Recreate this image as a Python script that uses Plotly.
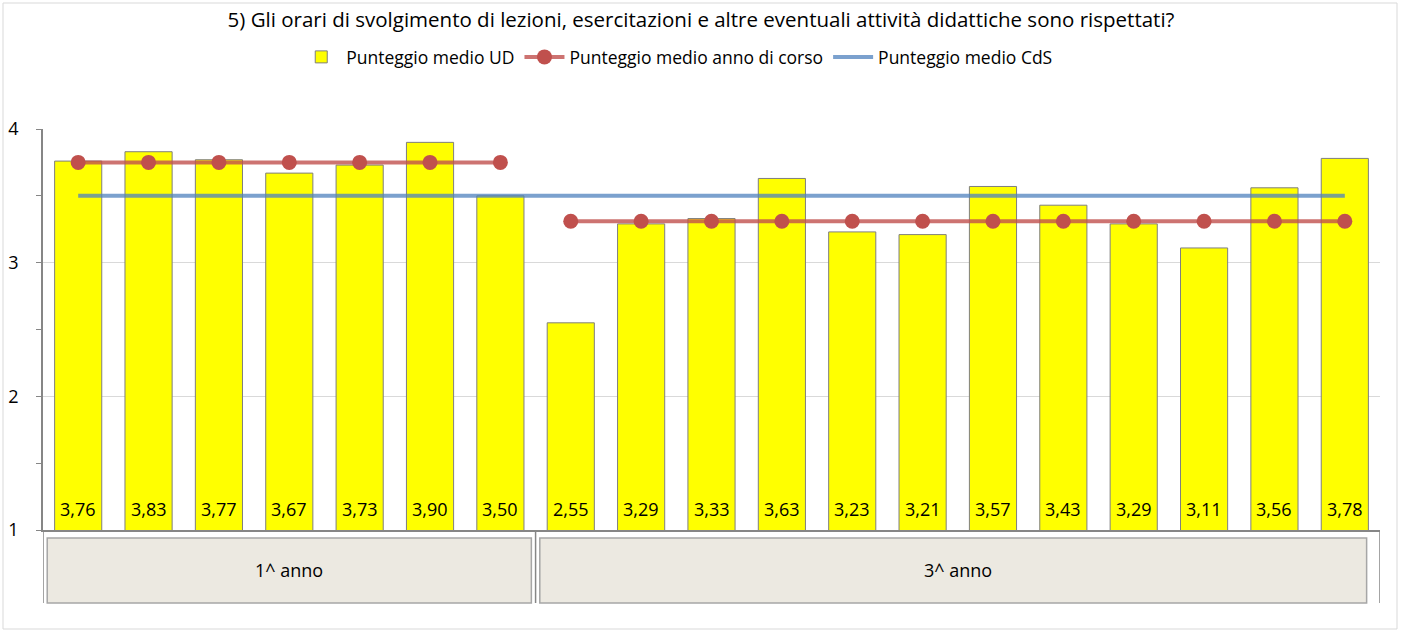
import plotly.graph_objects as go

# data
ud_scores = [3.76, 3.83, 3.77, 3.67, 3.73, 3.90, 3.50,
             2.55, 3.29, 3.33, 3.63, 3.23, 3.21, 3.57, 3.43, 3.29, 3.11, 3.56, 3.78]
group_labels = ["1^ anno", "3^ anno"]
group_sizes = [7, 12]
year_means = [3.75, 3.31]
cds_mean = 3.50

title = ("5) Gli orari di svolgimento di lezioni, esercitazioni e altre eventuali "
         "attività didattiche sono rispettati?")

W, H = 1402, 632
L, R, T, B = 43, 22, 129, 102
plot_h = H - T - B
font = "Open Sans"


def py(pixel_y):
    # pixel row -> paper y
    return (H - B - pixel_y) / plot_h


def px(pixel_x):
    return (pixel_x - L) / (W - L - R)


x = list(range(len(ud_scores)))
fig = go.Figure()

fig.add_trace(go.Bar(
    x=x, y=ud_scores, name="Punteggio medio UD",
    marker=dict(color="#FFFF00", line=dict(color="#7F7F7F", width=1)),
    width=0.67,
))

# year means, one segment per group
start = 0
for i, (size, mean) in enumerate(zip(group_sizes, year_means)):
    xs = x[start:start + size]
    fig.add_trace(go.Scatter(
        x=xs, y=[mean] * size, mode="lines+markers",
        name="Punteggio medio anno di corso", showlegend=(i == 0),
        legendgroup="anno",
        line=dict(color="rgba(192,80,77,0.8)", width=4),
        marker=dict(color="#C0504D", size=15),
    ))
    start += size

fig.add_trace(go.Scatter(
    x=x, y=[cds_mean] * len(x), mode="lines", name="Punteggio medio CdS",
    line=dict(color="rgba(79,129,189,0.75)", width=4),
))

shapes = []
annotations = []

# value labels at the foot of each bar
for xi, v in zip(x, ud_scores):
    annotations.append(dict(x=xi, y=1, xref="x", yref="y", yanchor="bottom",
                            yshift=7, showarrow=False,
                            text=f"{v:.2f}".replace(".", ","),
                            font=dict(size=18, color="black", family=font)))

# outer chart border
shapes.append(dict(type="rect", xref="paper", yref="paper",
                   x0=px(3), x1=px(1397), y0=py(629), y1=py(3),
                   line=dict(color="#D9D9D9", width=1), layer="below"))
# group boxes and dividers
start = 0
bounds = [-0.5]
for label, size in zip(group_labels, group_sizes):
    x0 = start - 0.5
    x1 = start + size - 0.5
    shapes.append(dict(type="rect", xref="x", yref="paper",
                       x0=x0 + 0.06, x1=x1 - 0.06 if x1 < len(x) - 1 else x1 - 0.19,
                       y0=py(603), y1=py(538),
                       fillcolor="#ECE9E1", line=dict(color="#A6A6A6", width=1.5)))
    annotations.append(dict(x=(x0 + x1) / 2, y=py(570), xref="x", yref="paper",
                            yanchor="middle", text=label, showarrow=False,
                            font=dict(size=18, color="black", family=font)))
    bounds.append(x1)
    start += size
for b in bounds:
    shapes.append(dict(type="line", xref="x", yref="paper",
                       x0=b, x1=b, y0=0, y1=py(603),
                       line=dict(color="#868686", width=1.5)))

fig.update_layout(
    width=W, height=H,
    margin=dict(l=L, r=R, t=T, b=B, autoexpand=False),
    paper_bgcolor="white", plot_bgcolor="white",
    font=dict(family=font, size=16, color="black"),
    title=dict(text=title, x=0.5, xanchor="center", y=1 - 20 / H, yanchor="middle",
               font=dict(size=20.5, color="black", family=font)),
    legend=dict(orientation="h", x=0.474, xanchor="center", y=py(57), yanchor="middle",
                font=dict(size=17.5, family=font), traceorder="normal",
                itemwidth=40),
    showlegend=True,
    bargap=0.33,
    xaxis=dict(range=[-0.5, len(x) - 0.5], showticklabels=False, showgrid=False,
               zeroline=False, showline=True, linecolor="#868686", linewidth=1.5,
               ticks="", automargin=False),
    yaxis=dict(range=[1, 4], dtick=1, tick0=1, showgrid=True, gridcolor="#D9D9D9",
               zeroline=False, showline=True, linecolor="#868686", linewidth=1.5,
               ticks="outside", ticklen=5, tickcolor="#868686", automargin=False,
               tickfont=dict(size=18, family=font), ticklabelstandoff=14,
               minor=dict(dtick=0.5, ticks="outside", ticklen=5, tickcolor="#868686",
                          showgrid=False)),
    shapes=shapes,
    annotations=annotations,
)

# page body has an 8px default margin; remove it so the figure sits at the corner
fig.write_html("out.html", config={"displayModeBar": False},
               post_script="document.body.style.margin='0';")
